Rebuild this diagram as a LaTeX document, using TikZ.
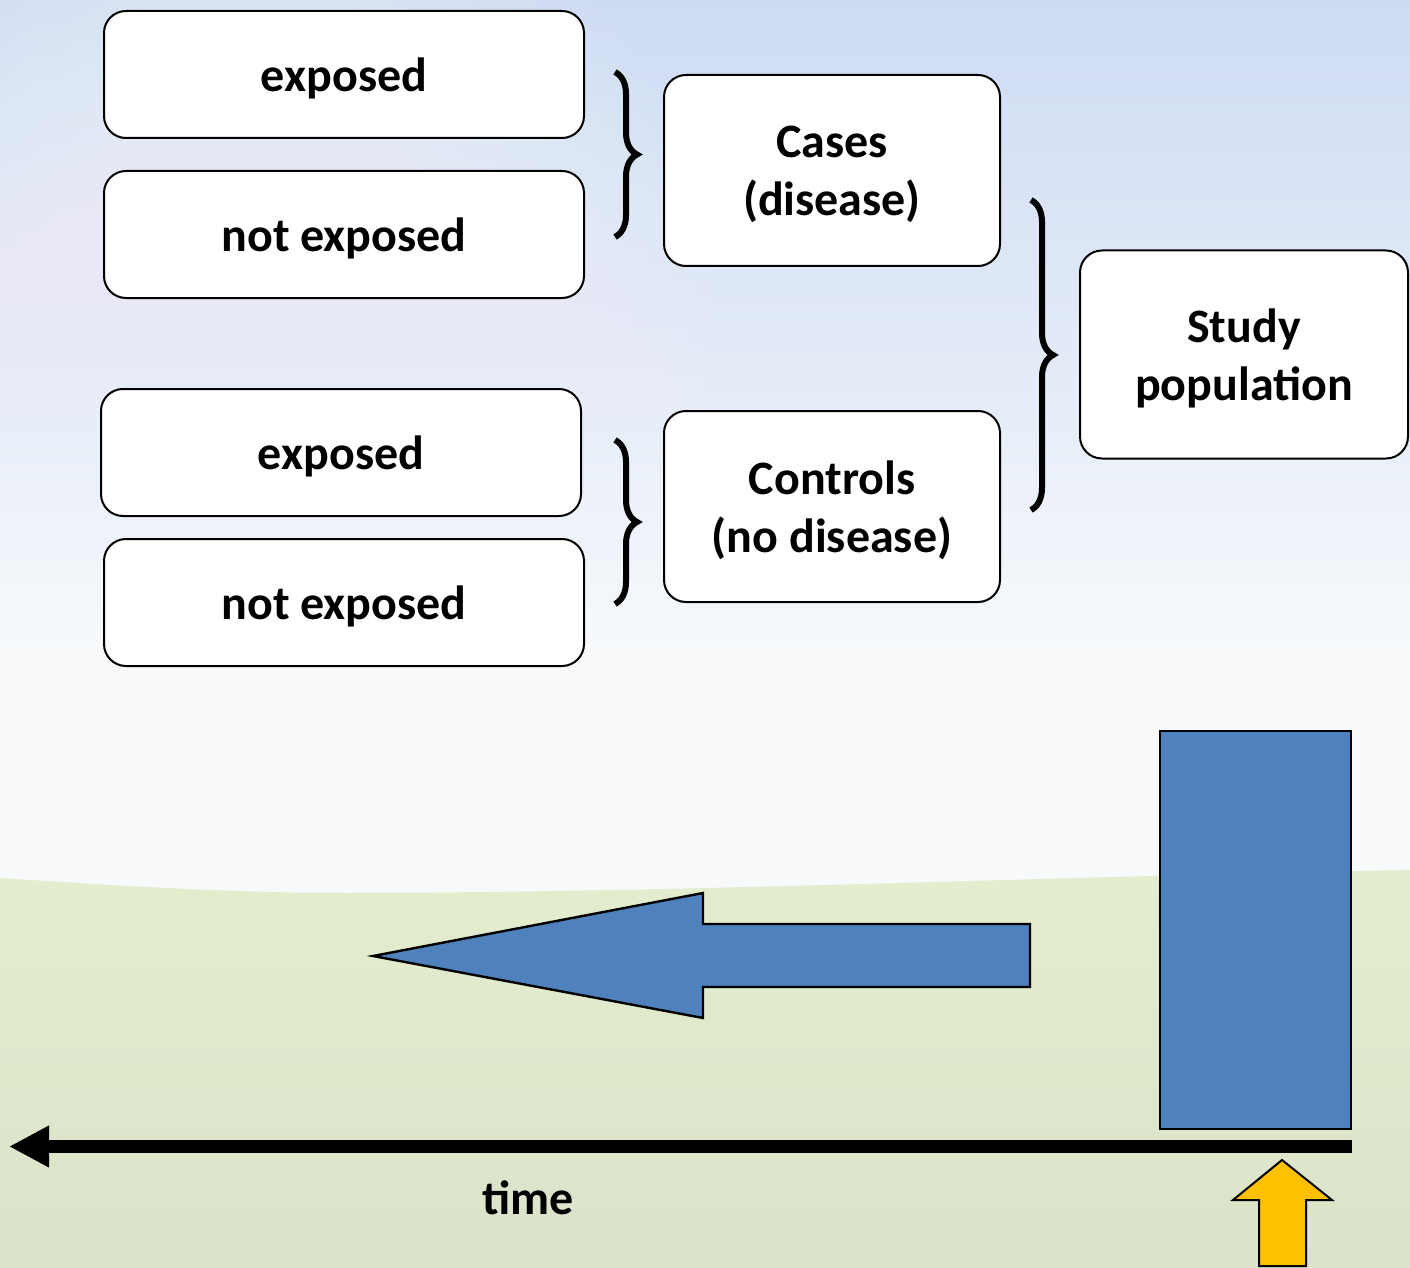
\documentclass[tikz,border=0pt]{standalone}
\usepackage{fontspec}
\setmainfont{Carlito}
\usetikzlibrary{decorations.pathreplacing,arrows.meta}
\definecolor{boxblue}{HTML}{4F81BD}
\definecolor{goldarrow}{HTML}{FFC000}
\definecolor{skytop}{RGB}{206,219,243}
\definecolor{skymid}{RGB}{226,234,247}
\definecolor{skylow}{RGB}{247,249,251}
\definecolor{grasstop}{RGB}{228,237,205}
\definecolor{grasslow}{RGB}{218,227,202}
% sky: white near the horizon, blue towards the top
\pgfdeclareverticalshading{skyshade}{100bp}{color(0bp)=(skylow); color(25bp)=(skylow);
  color(39bp)=(skylow); color(56bp)=(skymid); color(75bp)=(skytop); color(100bp)=(skytop)}
\begin{document}
\begin{tikzpicture}[x=0.5pt,y=-0.5pt,
  box/.style={draw=black, line width=1pt, fill=white, rounded corners=11pt,
    align=center, inner sep=0pt, text depth=0pt,
    font=\fontsize{24}{29}\selectfont\bfseries},
  smallbox/.style={box, minimum width=240pt, minimum height=63.5pt},
  groupbox/.style={box, minimum width=168pt, minimum height=95.5pt},
  bracket/.style={decorate, decoration={brace, amplitude=11pt}, line width=3pt},
  shapeline/.style={draw=black, line width=1.2pt, line join=miter}]
% frame
\useasboundingbox (0,0) rectangle (1410,1268);
% sky, sun haze and field
\shade[shading=skyshade] (0,0) rectangle (1410,900);
\foreach \r in {20,40,...,460}
  \fill[white, opacity=0.045] (250,310) circle (\r);
\shade[top color=grasstop, bottom color=grasslow]
  (0,878) .. controls (150,888) and (250,893) .. (350,893)
  .. controls (700,892) and (1000,878) .. (1410,870)
  -- (1410,1268) -- (0,1268) -- cycle;

% exposure boxes
\node[smallbox] (e1) at (344,74.5) {exposed};
\node[smallbox] (n1) at (344,234.5) {not exposed};
\node[smallbox] (e2) at (341,452.5) {exposed};
\node[smallbox] (n2) at (344,602.5) {not exposed};
% groups
\node[groupbox] (cases) at (832,170.5) {Cases\\(disease)};
\node[groupbox] (ctrl) at (832,506.5) {Controls\\(no disease)};
\node[box, minimum width=164pt, minimum height=104pt] (pop) at (1244,354.5) {Study\\population};

% braces
\coordinate (b1t) at (615,72);
\coordinate (b1b) at (615,237);
\coordinate (b2t) at (615,440);
\coordinate (b2b) at (615,604);
\coordinate (b3t) at (1031,200);
\coordinate (b3b) at (1031,510);
\draw[bracket] (b1t) -- (b1b);
\draw[bracket] (b2t) -- (b2b);
\draw[bracket] (b3t) -- (b3b);

% backward-looking arrow
\fill[boxblue] (373,956) -- (703,893) -- (703,924) -- (1030,924)
  -- (1030,987) -- (703,987) -- (703,1018) -- cycle;
\draw[shapeline] (373,956) -- (703,893) -- (703,924) -- (1030,924)
  -- (1030,987) -- (703,987) -- (703,1018) -- cycle;

% study start block
\node[draw=black, line width=1pt, fill=boxblue, minimum width=95.5pt,
  minimum height=199pt, inner sep=0pt] (block) at (1255.5,930) {};

% time axis
\coordinate (tend) at (1352,1146.5);
\coordinate (tstart) at (9,1146.5);
\draw[line width=6.5pt, -{Triangle[length=20pt,width=19.5pt]}] (tend) -- (tstart);
\node[font=\fontsize{24}{29}\selectfont\bfseries] (time) at (528,1198) {time};

% present-time marker
\fill[goldarrow] (1282,1160) -- (1332,1200) -- (1306,1200) -- (1306,1266)
  -- (1259,1266) -- (1259,1200) -- (1233,1200) -- cycle;
\draw[shapeline, line width=1pt] (1282,1160) -- (1332,1200) -- (1306,1200) -- (1306,1266)
  -- (1259,1266) -- (1259,1200) -- (1233,1200) -- cycle;
\end{tikzpicture}
\end{document}
